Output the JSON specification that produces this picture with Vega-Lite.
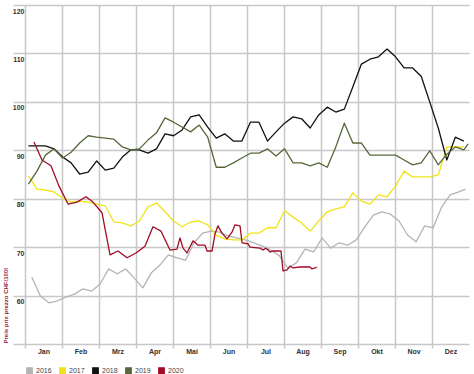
{
  "$schema": "https://vega.github.io/schema/vega-lite/v6.json",
  "width": 444,
  "height": 339,
  "autosize": {"type": "none"},
  "padding": {"left": 25, "top": 5, "right": 5, "bottom": 30},
  "background": "white",
  "config": {
    "view": {"stroke": null},
    "font": "Liberation Sans"
  },
  "data": {
    "values": [
      {"year":"2016","week":1.4,"value":63.8},{"year":"2016","week":2.4,"value":59.9},{"year":"2016","week":3.4,"value":58.5},{"year":"2016","week":4.4,"value":58.9},{"year":"2016","week":5.4,"value":59.7},{"year":"2016","week":6.4,"value":60.3},{"year":"2016","week":7.4,"value":61.4},{"year":"2016","week":8.4,"value":60.9},{"year":"2016","week":9.4,"value":62.4},{"year":"2016","week":10.4,"value":65.5},{"year":"2016","week":11.4,"value":64.5},{"year":"2016","week":12.4,"value":65.5},{"year":"2016","week":13.4,"value":63.6},{"year":"2016","week":14.4,"value":61.6},{"year":"2016","week":15.4,"value":64.7},{"year":"2016","week":16.4,"value":66.3},{"year":"2016","week":17.4,"value":68.4},{"year":"2016","week":18.4,"value":67.8},{"year":"2016","week":19.4,"value":67.3},{"year":"2016","week":20.4,"value":70.9},{"year":"2016","week":21.4,"value":72.9},{"year":"2016","week":22.4,"value":73.3},{"year":"2016","week":23.4,"value":73.1},{"year":"2016","week":24.4,"value":72.3},{"year":"2016","week":25.4,"value":71.9},{"year":"2016","week":26.4,"value":71.5},{"year":"2016","week":27.4,"value":70.9},{"year":"2016","week":28.4,"value":70.2},{"year":"2016","week":29.4,"value":69.4},{"year":"2016","week":30.4,"value":68.2},{"year":"2016","week":31.4,"value":65.6},{"year":"2016","week":32.4,"value":66.8},{"year":"2016","week":33.4,"value":69.6},{"year":"2016","week":34.4,"value":69.0},{"year":"2016","week":35.4,"value":71.9},{"year":"2016","week":36.4,"value":69.8},{"year":"2016","week":37.4,"value":70.9},{"year":"2016","week":38.4,"value":70.4},{"year":"2016","week":39.4,"value":71.5},{"year":"2016","week":40.4,"value":74.2},{"year":"2016","week":41.4,"value":76.6},{"year":"2016","week":42.4,"value":77.3},{"year":"2016","week":43.4,"value":76.8},{"year":"2016","week":44.4,"value":75.4},{"year":"2016","week":45.4,"value":72.5},{"year":"2016","week":46.4,"value":71.1},{"year":"2016","week":47.4,"value":74.4},{"year":"2016","week":48.4,"value":74.0},{"year":"2016","week":49.4,"value":78.3},{"year":"2016","week":50.4,"value":80.8},{"year":"2016","week":51.4,"value":81.4},{"year":"2016","week":52.2,"value":82.0},

      {"year":"2017","week":1,"value":84.7},{"year":"2017","week":2,"value":82.0},{"year":"2017","week":3,"value":81.8},{"year":"2017","week":4,"value":81.4},{"year":"2017","week":5,"value":80.1},{"year":"2017","week":6,"value":79.3},{"year":"2017","week":7,"value":79.5},{"year":"2017","week":8,"value":79.3},{"year":"2017","week":9,"value":78.9},{"year":"2017","week":10,"value":78.5},{"year":"2017","week":11,"value":75.2},{"year":"2017","week":12,"value":75.0},{"year":"2017","week":13,"value":74.4},{"year":"2017","week":14,"value":75.4},{"year":"2017","week":15,"value":78.3},{"year":"2017","week":16,"value":79.1},{"year":"2017","week":17,"value":77.3},{"year":"2017","week":18,"value":75.4},{"year":"2017","week":19,"value":74.2},{"year":"2017","week":20,"value":75.2},{"year":"2017","week":21,"value":75.4},{"year":"2017","week":22,"value":74.6},{"year":"2017","week":23,"value":72.5},{"year":"2017","week":24,"value":71.7},{"year":"2017","week":25,"value":71.5},{"year":"2017","week":26,"value":71.5},{"year":"2017","week":27,"value":72.9},{"year":"2017","week":28,"value":72.9},{"year":"2017","week":29,"value":74.0},{"year":"2017","week":30,"value":74.0},{"year":"2017","week":31,"value":77.5},{"year":"2017","week":32,"value":76.2},{"year":"2017","week":33,"value":75.0},{"year":"2017","week":34,"value":73.3},{"year":"2017","week":35,"value":75.4},{"year":"2017","week":36,"value":77.3},{"year":"2017","week":37,"value":77.9},{"year":"2017","week":38,"value":78.3},{"year":"2017","week":39,"value":81.2},{"year":"2017","week":40,"value":79.5},{"year":"2017","week":41,"value":78.9},{"year":"2017","week":42,"value":80.8},{"year":"2017","week":43,"value":80.4},{"year":"2017","week":44,"value":82.6},{"year":"2017","week":45,"value":85.7},{"year":"2017","week":46,"value":84.5},{"year":"2017","week":47,"value":84.5},{"year":"2017","week":48,"value":84.5},{"year":"2017","week":49,"value":84.9},{"year":"2017","week":50,"value":90.7},{"year":"2017","week":51,"value":90.7},{"year":"2017","week":52,"value":90.7},

      {"year":"2018","week":1,"value":90.9},{"year":"2018","week":2,"value":90.9},{"year":"2018","week":3,"value":90.9},{"year":"2018","week":4,"value":90.3},{"year":"2018","week":5,"value":88.6},{"year":"2018","week":6,"value":87.4},{"year":"2018","week":7,"value":85.1},{"year":"2018","week":8,"value":85.5},{"year":"2018","week":9,"value":87.8},{"year":"2018","week":10,"value":85.9},{"year":"2018","week":11,"value":86.3},{"year":"2018","week":12,"value":88.6},{"year":"2018","week":13,"value":90.1},{"year":"2018","week":14,"value":90.1},{"year":"2018","week":15,"value":89.4},{"year":"2018","week":16,"value":90.3},{"year":"2018","week":17,"value":93.4},{"year":"2018","week":18,"value":93.0},{"year":"2018","week":19,"value":94.2},{"year":"2018","week":20,"value":96.9},{"year":"2018","week":21,"value":97.3},{"year":"2018","week":22,"value":94.8},{"year":"2018","week":23,"value":92.5},{"year":"2018","week":24,"value":93.4},{"year":"2018","week":25,"value":91.9},{"year":"2018","week":26,"value":91.9},{"year":"2018","week":27,"value":95.8},{"year":"2018","week":28,"value":95.8},{"year":"2018","week":29,"value":91.9},{"year":"2018","week":30,"value":93.8},{"year":"2018","week":31,"value":95.6},{"year":"2018","week":32,"value":96.9},{"year":"2018","week":33,"value":96.5},{"year":"2018","week":34,"value":94.6},{"year":"2018","week":35,"value":97.3},{"year":"2018","week":36,"value":98.9},{"year":"2018","week":37,"value":97.9},{"year":"2018","week":38,"value":98.5},{"year":"2018","week":39,"value":103.1},{"year":"2018","week":40,"value":107.8},{"year":"2018","week":41,"value":108.8},{"year":"2018","week":42,"value":109.3},{"year":"2018","week":43,"value":110.9},{"year":"2018","week":44,"value":109.3},{"year":"2018","week":45,"value":107.0},{"year":"2018","week":46,"value":107.0},{"year":"2018","week":47,"value":105.3},{"year":"2018","week":48,"value":100.0},{"year":"2018","week":49,"value":94.6},{"year":"2018","week":50,"value":88.0},{"year":"2018","week":51,"value":92.7},{"year":"2018","week":52,"value":91.9},

      {"year":"2019","week":1,"value":83.0},{"year":"2019","week":2,"value":85.7},{"year":"2019","week":3,"value":89.0},{"year":"2019","week":4,"value":90.3},{"year":"2019","week":5,"value":88.4},{"year":"2019","week":6,"value":89.6},{"year":"2019","week":7,"value":91.5},{"year":"2019","week":8,"value":93.0},{"year":"2019","week":9,"value":92.7},{"year":"2019","week":10,"value":92.5},{"year":"2019","week":11,"value":92.3},{"year":"2019","week":12,"value":90.7},{"year":"2019","week":13,"value":90.1},{"year":"2019","week":14,"value":90.3},{"year":"2019","week":15,"value":92.1},{"year":"2019","week":16,"value":93.6},{"year":"2019","week":17,"value":96.7},{"year":"2019","week":18,"value":95.8},{"year":"2019","week":19,"value":94.8},{"year":"2019","week":20,"value":93.8},{"year":"2019","week":21,"value":95.2},{"year":"2019","week":22,"value":92.7},{"year":"2019","week":23,"value":86.5},{"year":"2019","week":24,"value":86.5},{"year":"2019","week":25,"value":87.4},{"year":"2019","week":26,"value":88.4},{"year":"2019","week":27,"value":89.4},{"year":"2019","week":28,"value":89.4},{"year":"2019","week":29,"value":90.3},{"year":"2019","week":30,"value":88.8},{"year":"2019","week":31,"value":90.3},{"year":"2019","week":32,"value":87.4},{"year":"2019","week":33,"value":87.4},{"year":"2019","week":34,"value":86.8},{"year":"2019","week":35,"value":87.4},{"year":"2019","week":36,"value":86.5},{"year":"2019","week":37,"value":90.7},{"year":"2019","week":38,"value":95.6},{"year":"2019","week":39,"value":91.5},{"year":"2019","week":40,"value":91.5},{"year":"2019","week":41,"value":89.0},{"year":"2019","week":42,"value":89.0},{"year":"2019","week":43,"value":89.0},{"year":"2019","week":44,"value":89.0},{"year":"2019","week":45,"value":88.0},{"year":"2019","week":46,"value":87.0},{"year":"2019","week":47,"value":87.4},{"year":"2019","week":48,"value":89.9},{"year":"2019","week":49,"value":87.0},{"year":"2019","week":50,"value":89.2},{"year":"2019","week":51,"value":90.7},{"year":"2019","week":52,"value":90.1},{"year":"2019","week":52.5,"value":91.3},

      {"year":"2020","week":1.65,"value":91.7},{"year":"2020","week":2.59,"value":88.0},{"year":"2020","week":3.64,"value":86.8},{"year":"2020","week":4.58,"value":82.6},{"year":"2020","week":5.64,"value":78.9},{"year":"2020","week":6.69,"value":79.3},{"year":"2020","week":7.74,"value":80.4},{"year":"2020","week":8.56,"value":79.3},{"year":"2020","week":9.62,"value":77.1},{"year":"2020","week":10.56,"value":68.4},{"year":"2020","week":11.49,"value":69.2},{"year":"2020","week":12.55,"value":67.8},{"year":"2020","week":13.6,"value":68.8},{"year":"2020","week":14.65,"value":70.2},{"year":"2020","week":15.59,"value":74.2},{"year":"2020","week":16.53,"value":73.3},{"year":"2020","week":17.58,"value":69.4},{"year":"2020","week":18.4,"value":69.6},{"year":"2020","week":18.75,"value":71.9},{"year":"2020","week":19.11,"value":69.8},{"year":"2020","week":19.57,"value":68.8},{"year":"2020","week":20.28,"value":71.3},{"year":"2020","week":20.86,"value":70.4},{"year":"2020","week":21.68,"value":70.4},{"year":"2020","week":21.92,"value":69.2},{"year":"2020","week":22.5,"value":69.2},{"year":"2020","week":22.85,"value":72.7},{"year":"2020","week":23.2,"value":74.4},{"year":"2020","week":23.67,"value":72.9},{"year":"2020","week":24.26,"value":71.7},{"year":"2020","week":24.84,"value":73.1},{"year":"2020","week":25.2,"value":74.6},{"year":"2020","week":25.78,"value":74.4},{"year":"2020","week":26.02,"value":70.9},{"year":"2020","week":26.72,"value":70.7},{"year":"2020","week":26.95,"value":70.0},{"year":"2020","week":28.12,"value":69.8},{"year":"2020","week":28.48,"value":69.4},{"year":"2020","week":28.83,"value":69.8},{"year":"2020","week":29.3,"value":69.0},{"year":"2020","week":29.65,"value":69.2},{"year":"2020","week":30.58,"value":69.2},{"year":"2020","week":30.82,"value":65.1},{"year":"2020","week":31.29,"value":65.3},{"year":"2020","week":31.64,"value":66.1},{"year":"2020","week":31.99,"value":65.7},{"year":"2020","week":32.81,"value":65.9},{"year":"2020","week":33.98,"value":65.9},{"year":"2020","week":34.21,"value":65.5},{"year":"2020","week":34.57,"value":65.7},{"year":"2020","week":34.8,"value":65.9}
    ]
  },
  "mark": {"type": "line", "strokeJoin": "round"},
  "encoding": {
    "x": {
      "field": "week",
      "type": "quantitative",
      "scale": {"domain": [0.6, 52.6], "nice": false, "zero": false},
      "axis": {
        "title": null,
        "values": [0.6, 4.9333, 9.2667, 13.6, 17.9333, 22.2667, 26.6, 30.9333, 35.2667, 39.6, 43.9333, 48.2667],
        "labelExpr": "['Jan','Feb','Mrz','Apr','Mai','Jun','Jul','Aug','Sep','Okt','Nov','Dez'][round((datum.value-0.6)/4.33333)]",
        "labelOffset": 18.5,
        "labelAlign": "center",
        "labelFlush": false,
        "labelOverlap": false,
        "labelBound": false,
        "labelFontSize": 7,
        "labelFontWeight": "bold",
        "labelColor": "#333333",
        "labelPadding": -1,
        "grid": true,
        "gridColor": "#c8c8c8",
        "gridWidth": 1.5,
        "ticks": true,
        "tickSize": 4,
        "tickColor": "#c8c8c8",
        "tickWidth": 1.5,
        "domain": false
      }
    },
    "y": {
      "field": "value",
      "type": "quantitative",
      "scale": {"domain": [50, 120], "nice": false, "zero": false},
      "axis": {
        "title": "Preis prix prezzo CHF/100l",
        "titleColor": "#9b1b30",
        "titleFontSize": 6,
        "titleFontWeight": "bold",
        "titleX": -20,
        "titleY": 338,
        "titleAngle": -90,
        "titleAlign": "left",
        "titleBaseline": "middle",
        "values": [50, 60, 70, 80, 90, 100, 110, 120],
        "labelExpr": "datum.value == 50 ? '' : datum.label",
        "labelFontSize": 7,
        "labelFontWeight": "bold",
        "labelColor": "#333333",
        "labelBaseline": "top",
        "labelOffset": 2,
        "labelPadding": -11,
        "grid": true,
        "gridColor": "#c8c8c8",
        "gridWidth": 1.5,
        "ticks": true,
        "tickSize": 12,
        "tickColor": "#c8c8c8",
        "tickWidth": 1.5,
        "domain": false
      }
    },
    "color": {
      "field": "year",
      "type": "nominal",
      "scale": {
        "domain": ["2016", "2017", "2018", "2019", "2020"],
        "range": ["#b4b4b4", "#f0e31a", "#111111", "#56683a", "#a00c24"]
      },
      "legend": {
        "title": null,
        "orient": "none",
        "legendX": 1,
        "legendY": 362,
        "direction": "horizontal",
        "symbolType": "square",
        "symbolSize": 30,
        "symbolStrokeWidth": 0,
        "labelFontSize": 7,
        "labelColor": "#444444",
        "labelOffset": 3,
        "columnPadding": 5,
        "encode": {
          "symbols": {"update": {"fill": {"scale": "color", "field": "value"}, "strokeWidth": {"value": 0}}}
        }
      }
    },
    "strokeWidth": {
      "field": "year",
      "type": "nominal",
      "scale": {"domain": ["2016", "2017", "2018", "2019", "2020"], "range": [1.3, 1.3, 1.3, 1.3, 3]},
      "legend": null
    }
  }
}
